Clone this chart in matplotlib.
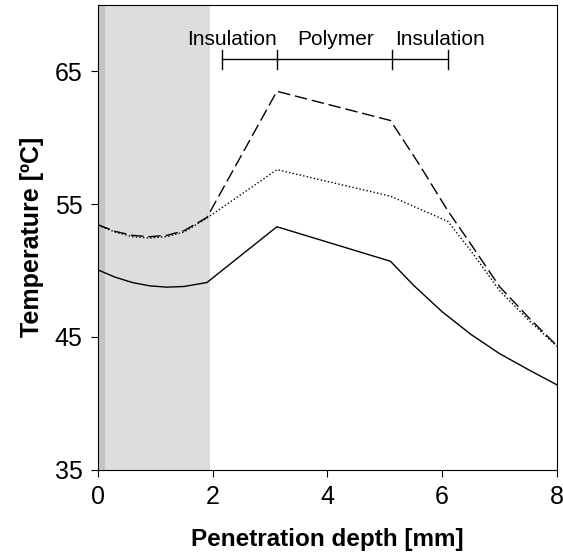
import matplotlib
matplotlib.use("Agg")
import matplotlib.pyplot as plt

plt.rcParams['font.family'] = ['Liberation Sans', 'DejaVu Sans']

# --- data ---
solid_x = [0, 0.3, 0.6, 0.9, 1.2, 1.5, 1.9, 3.12, 5.1, 5.5, 6.0, 6.5, 7.0, 7.5, 8.0]
solid_y = [50.05, 49.5, 49.1, 48.85, 48.75, 48.8, 49.1, 53.3, 50.7, 48.9, 46.9, 45.2, 43.75, 42.55, 41.4]

dashed_x = [0, 0.3, 0.6, 0.9, 1.2, 1.5, 1.9, 3.12, 5.1, 5.6, 6.1, 6.5, 7.0, 7.5, 8.0]
dashed_y = [53.45, 52.95, 52.65, 52.55, 52.65, 53.0, 54.0, 63.5, 61.3, 58.0, 54.5, 52.0, 48.8, 46.5, 44.35]

dotted_x = [0, 0.3, 0.6, 0.9, 1.2, 1.5, 1.9, 3.12, 5.1, 6.1, 6.5, 7.0, 7.5, 8.0]
dotted_y = [53.4, 52.9, 52.55, 52.45, 52.55, 52.9, 53.95, 57.6, 55.6, 53.7, 51.5, 48.5, 46.3, 44.3]

layer_edges = [2.17, 3.13, 5.13, 6.1]
layer_names = ["Insulation", "Polymer", "Insulation"]
layer_label_x = [2.33, 4.14, 5.97]

fig = plt.figure(figsize=(5.63, 5.52), dpi=100)
ax = fig.add_axes([0.174, 0.149, 0.815, 0.842])

# shaded region and thin darker strip at the surface
ax.axvspan(0, 1.95, color="#dddddd", lw=0, zorder=0)
ax.axvspan(0, 0.12, color="#c4c4c4", lw=0, zorder=0)

ax.plot(solid_x, solid_y, color="black", lw=1)
ax.plot(dashed_x, dashed_y, color="black", lw=1, linestyle=(0, (9, 3.5)))
ax.plot(dotted_x, dotted_y, color="black", lw=1, linestyle=(0, (1, 1.6)))

# layer bracket
ax.plot([layer_edges[0], layer_edges[-1]], [65.9, 65.9], color="black", lw=1)
for e in layer_edges:
    ax.plot([e, e], [65.2, 66.6], color="black", lw=1)
for name, lx in zip(layer_names, layer_label_x):
    ax.text(lx, 67.4, name, ha="center", va="center", fontsize=15)

ax.set_xlim(0, 8)
ax.set_ylim(35, 70)
ax.set_xticks([0, 2, 4, 6, 8])
ax.set_yticks([35, 45, 55, 65])
ax.tick_params(direction="out", length=5, labelsize=18, top=False, right=False, pad=6)
ax.set_xlabel("Penetration depth [mm]", fontsize=17.5, fontweight="bold", labelpad=14)
ax.set_ylabel("Temperature [ºC]", fontsize=18, fontweight="bold", labelpad=8)

fig.savefig("out.png", dpi=100)
